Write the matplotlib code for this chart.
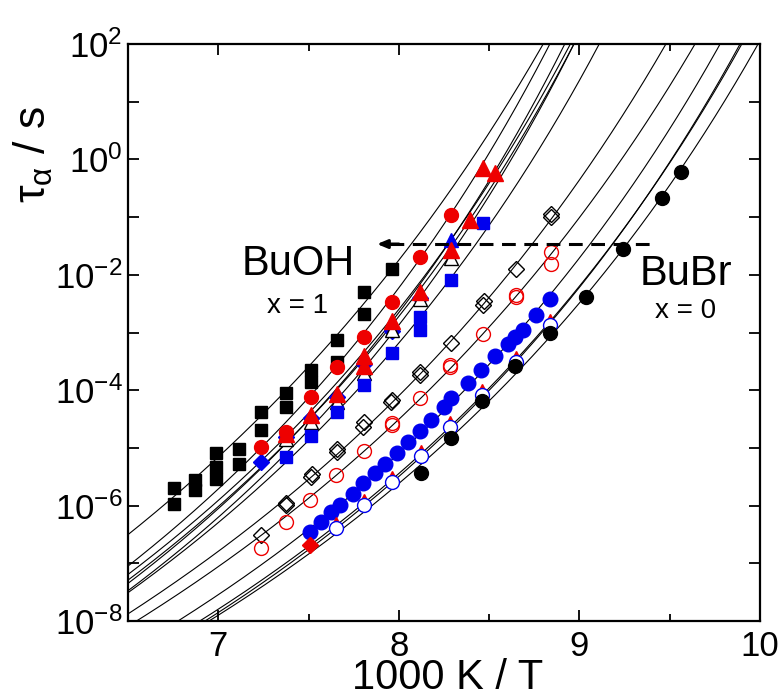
import numpy as np
import matplotlib
matplotlib.use('Agg')
import matplotlib.pyplot as plt
from matplotlib.ticker import LogLocator, FuncFormatter, MultipleLocator, NullLocator

plt.rcParams['font.family'] = 'Liberation Sans'
plt.rcParams['mathtext.fontset'] = 'custom'
plt.rcParams['mathtext.rm'] = 'Liberation Sans'
plt.rcParams['mathtext.it'] = 'Liberation Sans:italic'

# data: x = 1000 K / T, y = log10(tau / s)
buoh_x = [6.754, 6.754, 6.869, 6.869, 6.989, 6.989, 6.989, 7.113, 7.113, 7.238, 7.238,
          7.375, 7.375, 7.512, 7.512, 7.657, 7.657, 7.805, 7.805, 7.962]
buoh_y = [-5.70, -5.97, -5.56, -5.73, -5.09, -5.33, -5.53, -5.01, -5.27, -4.37, -4.68,
          -4.05, -4.29, -3.65, -3.85, -3.13, -3.51, -2.29, -2.67, -1.89]

redc_x = [7.238, 7.375, 7.512, 7.657, 7.805, 7.962, 8.119, 8.291]
redc_y = [-4.99, -4.72, -4.11, -3.60, -3.07, -2.47, -1.69, -0.96]

bdia_x = [7.238, 7.375, 7.512, 7.657, 7.805, 7.962, 8.119]
bdia_y = [-5.24, -4.80, -4.48, -4.12, -3.55, -2.97, -2.40]
btri_x = [8.291]
btri_y = [-1.40]

otri_x = [7.375, 7.512, 7.657, 7.805, 7.962, 8.119, 8.291]
otri_y = [-4.85, -4.55, -4.20, -3.70, -2.95, -2.42, -1.71]

redt_x = [7.375, 7.512, 7.657, 7.805, 7.805, 7.962, 8.119, 8.291]
redt_y = [-4.75, -4.42, -4.06, -3.58, -3.40, -2.80, -2.29, -1.57]
redt2_x = [8.392, 8.466, 8.535]
redt2_y = [-1.05, -0.15, -0.24]

bsq_x = [7.375, 7.512, 7.657, 7.805, 7.962, 8.119, 8.119, 8.291, 8.466]
bsq_y = [-5.16, -4.79, -4.37, -3.91, -3.36, -2.73, -2.96, -2.09, -1.10]

odia_x = [7.238, 7.375, 7.377, 7.516, 7.520, 7.657, 7.660, 7.801, 7.805, 7.959, 7.962,
          8.115, 8.119, 8.287, 8.466, 8.470, 8.651, 8.840, 8.844]
odia_y = [-6.51, -5.99, -5.96, -5.50, -5.45, -5.07, -5.02, -4.63, -4.55, -4.20, -4.16,
          -3.74, -3.68, -3.18, -2.52, -2.45, -1.89, -1.00, -0.95]

orc_x = [7.238, 7.373, 7.510, 7.654, 7.805, 7.962, 7.962, 8.119, 8.286, 8.286, 8.466,
         8.647, 8.647, 8.840, 8.840]
orc_y = [-6.73, -6.28, -5.90, -5.47, -5.05, -4.60, -4.57, -4.14, -3.59, -3.56, -3.03,
         -2.38, -2.35, -1.60, -1.81]

bfc_x = [7.510, 7.571, 7.626, 7.672, 7.746, 7.801, 7.866, 7.922, 7.987, 8.051, 8.115,
         8.180, 8.248, 8.291, 8.383, 8.457, 8.531, 8.605, 8.642, 8.688, 8.762, 8.836]
bfc_y = [-6.45, -6.28, -6.11, -5.99, -5.79, -5.61, -5.43, -5.27, -5.09, -4.89, -4.70,
         -4.52, -4.29, -4.14, -3.88, -3.65, -3.41, -3.19, -3.07, -2.96, -2.70, -2.42]

obc_x = [7.654, 7.806, 7.963, 8.120, 8.282, 8.463, 8.647, 8.836]
obc_y = [-6.39, -5.99, -5.59, -5.14, -4.63, -4.08, -3.51, -2.87]

rst_x = [7.654, 7.806, 7.963, 8.120, 8.282, 8.463, 8.647, 8.836]
rst_y = [-6.30, -5.90, -5.50, -5.05, -4.55, -3.99, -3.42, -2.78]
rdia_x = [7.510]
rdia_y = [-6.68]

bubr_x = [8.121, 8.287, 8.463, 8.646, 8.836, 9.036, 9.242, 9.460, 9.564]
bubr_y = [-5.44, -4.82, -4.18, -3.58, -3.01, -2.38, -1.56, -0.67, -0.21]

# VFT fits: log10 tau = A + B / (T - T0)
vft_A = -15.0
vft_B = [683.6, 608.4, 581.2, 608.6, 572.6, 598.1, 590.9, 593.5, 583.9, 539.8, 515.3, 523.8, 521.9]
vft_T0 = [73.43, 77.38, 77.93, 75.93, 77.8, 76.3, 75.01, 70.58, 69.38, 70.5, 70.80, 70.2, 69.40]

fig = plt.figure(figsize=(7.81, 6.98), dpi=100)
ax = fig.add_axes([0.164, 0.110, 0.809, 0.827])

xs = np.linspace(6.4, 10.1, 800)
for B, T0 in zip(vft_B, vft_T0):
    T = 1000.0 / xs
    m = T > T0 + 1
    ax.plot(xs[m], 10 ** (vft_A + B / (T[m] - T0)), color='k', lw=0.8, zorder=2)


def pts(x, y, **kw):
    ax.plot(x, 10 ** np.array(y), ls='none', **kw)


pts(buoh_x, buoh_y, marker='s', ms=9, color='k', zorder=3)
pts(bdia_x, bdia_y, marker='D', ms=8, color='#0000ee', zorder=3)
pts(btri_x, btri_y, marker='^', ms=10, color='#0000ee', zorder=3)
pts(otri_x, otri_y, marker='^', ms=10, mfc='white', mec='k', mew=1.0, zorder=3)
pts(bsq_x, bsq_y, marker='s', ms=9, color='#0000ee', zorder=3)
pts(redc_x, redc_y, marker='o', ms=10, color='#ee0000', zorder=4)
pts(redt_x, redt_y, marker='^', ms=11, color='#ee0000', zorder=4)
pts(redt2_x, redt2_y, marker='^', ms=11, color='#ee0000', zorder=4)
pts(odia_x, odia_y, marker='D', ms=8, mfc='none', mec='k', mew=1.0, zorder=4)
pts(orc_x, orc_y, marker='o', ms=10, mfc='none', mec='#ee0000', mew=1.0, zorder=4)
pts(bfc_x, bfc_y, marker='o', ms=10.5, color='#0000ee', zorder=4)
pts(rst_x, rst_y, marker='^', ms=8, color='#ee0000', zorder=4)
pts(rdia_x, rdia_y, marker='D', ms=8.5, color='#ee0000', zorder=5)
pts(obc_x, obc_y, marker='o', ms=10, mfc='white', mec='#0000ee', mew=1.0, zorder=5)
pts(bubr_x, bubr_y, marker='o', ms=10, color='k', zorder=5)

# arrow BuBr -> BuOH
ya = 10 ** -1.466
ax.plot([7.95, 9.40], [ya, ya], color='k', lw=2.2, ls=(0, (4.5, 2.8)), zorder=6)
ax.annotate('', xy=(7.879, ya), xytext=(8.0, ya),
            arrowprops=dict(arrowstyle='-|>,head_length=0.6,head_width=0.25',
                            lw=2.2, color='k', shrinkA=0, shrinkB=0), zorder=6)

ax.text(7.444, 10 ** -2.003, 'BuOH', fontsize=30, ha='center', va='baseline')
ax.text(7.439, 10 ** -2.662, 'x = 1', fontsize=20, ha='center', va='baseline')
ax.text(9.589, 10 ** -2.168, 'BuBr', fontsize=30, ha='center', va='baseline')
ax.text(9.589, 10 ** -2.743, 'x = 0', fontsize=20, ha='center', va='baseline')

ax.set_yscale('log')
ax.set_xlim(6.5, 10)
ax.set_ylim(1e-8, 1e2)

ax.xaxis.set_major_locator(MultipleLocator(1))
ax.xaxis.set_minor_locator(MultipleLocator(0.5))
ax.yaxis.set_major_locator(LogLocator(base=10, numticks=20))
ax.yaxis.set_minor_locator(NullLocator())


def yfmt(v, pos):
    e = int(round(np.log10(v)))
    if e % 2:
        return ''
    return r'$\mathregular{10^{%d}}$' % e


ax.yaxis.set_major_formatter(FuncFormatter(yfmt))
ax.tick_params(which='both', direction='in', top=True, right=True, width=1.3)
ax.tick_params(which='major', length=8, labelsize=25)
ax.tick_params(axis='x', which='major', pad=6)
ax.tick_params(axis='y', which='major', pad=4)
ax.tick_params(which='minor', length=5)
for s in ax.spines.values():
    s.set_linewidth(1.6)

ax.set_xlabel('1000 K / T', fontsize=30)
ax.xaxis.label.set_va('baseline')
ax.xaxis.set_label_coords(0.506, -0.118)
ax.set_ylabel(r'$\mathregular{\tau_\alpha}$ / s', fontsize=32)
ax.yaxis.set_label_coords(-0.115, 0.808)

fig.savefig('out.png', dpi=100)
